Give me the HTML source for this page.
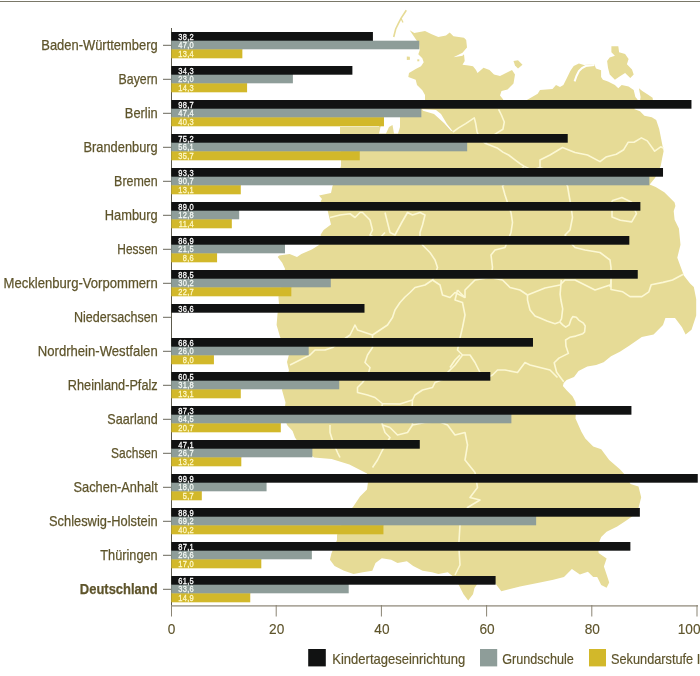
<!DOCTYPE html>
<html><head><meta charset="utf-8"><style>
html,body{margin:0;padding:0;background:#fff;}
body{width:700px;height:676px;overflow:hidden;}
svg{display:block;font-family:"Liberation Sans",sans-serif;}
</style></head><body>
<svg width="700" height="676" viewBox="0 0 700 676">
<rect x="0" y="0" width="700" height="676" fill="#ffffff"/>
<rect x="0" y="1" width="700" height="1" fill="#7a7868"/>
<path d="M409.7,30.3 L414.3,33 L421,31.7 L425,31 L431.7,34.3 L438.3,37 L446,35.5 L449.7,32.5 L453.5,36.2 L464,37.7 L466.2,40 L467,47.5 L462.5,52.7 L453.5,57.2 L462.5,55.7 L464,54.2 L464.7,61 L462.5,64.7 L468.5,65.5 L473,66.2 L476,70 L477.5,73 L483.5,67.7 L489.5,70 L494,74.5 L500,76 L506,73 L512,70 L515,74.5 L513.5,83.5 L507.5,89.5 L501.5,91 L500,95.5 L503,99.2 L505,104 L520,104 L537.7,93.7 L540,90 L552.5,89 L556,85 L560,87 L563.4,84.9 L566.9,78 L570.3,71.1 L573.7,66 L578.9,63.4 L584,65.1 L594.3,64.3 L596,68.6 L601.1,70.3 L601.1,77.1 L602.9,79.7 L608,81.4 L614.9,84.9 L618.3,88.3 L621.7,84.9 L628.6,86.6 L633.7,90 L635.4,96.9 L637.1,99 L640,104 L634,109 L640,111.3 L644.4,115.7 L651.8,117.2 L656.2,120.1 L659.2,129 L660.7,136.4 L662.1,143.8 L663.6,151.2 L662.1,158.6 L660.7,166 L655,178 L649.7,184.6 L655.7,187.1 L664.3,192.3 L668.6,196.6 L674.6,202.6 L675.4,206 L673.7,211.1 L674.6,219.7 L678.9,228.4 L680.5,244.7 L677.3,257.7 L682.1,270.7 L683.8,275.6 L690.3,283.8 L693.8,287.1 L696.2,298.9 L696.2,315.5 L691.5,329.7 L685.6,334.4 L682,327.3 L675,317.9 L665.4,317.9 L663,325 L653.6,334.4 L641.8,337 L628.8,345.9 L619.9,351.8 L611,356.3 L603.6,362.2 L596.2,365.1 L587.3,366.6 L578.5,371.1 L574,377 L566.6,380 L563.7,382.9 L562.9,385.9 L566.6,390.3 L572.5,396.2 L575.5,402.1 L576,410 L575.5,418.4 L581.4,431.7 L585.3,438.6 L593.2,446.6 L601.2,449.3 L609.2,460 L619.9,469.3 L626,476 L630.5,484 L638.5,486.6 L641.2,497.2 L638.5,507.9 L633.2,515.8 L625.2,521.2 L617.2,526.5 L606.6,531.8 L601.2,537.1 L598,545 L598.6,553.1 L606.6,558.4 L603.9,566.4 L606.6,574.4 L609.2,582.4 L606.6,587.7 L601.2,585 L597.2,577.1 L593.2,577.1 L587.9,571.8 L579.9,574.4 L571.9,569.1 L564,577.1 L553.3,579.7 L540,582.4 L520,586.5 L501.3,591.2 L495,583 L478,583 L474.5,588 L473,594.3 L468.2,600.6 L463.5,594.3 L458.8,585 L455,578 L447.8,572.3 L438.4,573.9 L432,572.3 L422.6,570.8 L413.2,566 L406.9,561.3 L397.5,562.9 L391.2,559.7 L381.8,558.2 L375.5,562.9 L372.3,570.8 L362.9,572.3 L353.5,573.9 L344,570.8 L334.6,566 L329.9,559.7 L331.4,553.5 L337,540 L337,535 L342.5,522.5 L350,510 L353,507 L360,496.5 L367,489.5 L368,482 L367,473.5 L349.4,464.6 L331.6,459 L314,457.5 L300,445 L295,437.5 L292.6,431 L287,425 L284,415 L285.5,402.5 L282,390 L284,382 L289,370.5 L287,362 L289,354.5 L284,345 L280,336.8 L276.6,325 L277.5,314 L279,304 L278.4,297 L282,285 L285,268.8 L282.2,262.8 L277.75,257 L279.2,255.4 L289.6,254 L297,257 L301.4,254 L311.8,249.5 L319,245 L321,238 L320.6,234.7 L323.6,230 L331,224.4 L329.5,218.5 L328,212 L326,205 L320.6,201.5 L322,199 L319,195.5 L331,193 L332.5,186 L338,175 L341,166 L341,160 L341,145 L340,134 L340,127 L379,127 L381,120 L400,117 L410,112 L425,100 L425,95 L422.3,90.3 L417,85 L415.7,79.7 L408.3,77 L409,73 L415.7,69 L421,66.3 L423.7,62.3 L422.3,58.3 L418.3,54.3 L419.7,50.3 L419,44Z" fill="#e6db96"/>
<path d="M513.5,61 L518,60.2 L522.5,64.7 L518,68.5 L515,65.5Z" fill="#e6db96"/>
<path d="M611.4,46.3 L618.3,46.3 L619.1,52.3 L625.1,54 L628.6,59.1 L626.9,64.3 L632,69.4 L633.7,74.6 L630.3,78 L625.1,72.9 L620,76.3 L614.9,79.7 L609.7,74.6 L608,67.7 L607.1,60.9 L609.7,57.4 L614.9,55.7 L611.4,52.3Z" fill="#e6db96"/>
<path d="M638.9,88.3 L642.3,90.9 L647.4,94.3 L652.6,97.7 L653,101 L640,101 L640.6,96.9Z" fill="#e6db96"/>
<path d="M406.8,56.5 L409.8,56.8 L410,59.8 L406.8,60Z" fill="#e6db96"/>
<path d="M417.3,59.3 L419.3,59.3 L419.3,61.3 L417.3,61.3Z" fill="#e6db96"/>
<polyline points="406.3,10.3 403.7,14.3 401,18.3 398.3,23.7 395.7,29 393.7,37" fill="none" stroke="#e6db96" stroke-width="1.6"/><polyline points="401,18.3 403,22.5" fill="none" stroke="#e6db96" stroke-width="1.3"/>
<path d="M422,109.3 L436,110 L441,114 L447,124 L453,131.4 L451,130.7 L444,123 L434,114 L423,110.7Z" fill="#ffffff"/>
<path d="M383,117 L400,117 L400,127 L398,133.5 L394,133.5 L392.5,125 L389,127 L386,133.5 L379,133.5 L381,125Z" fill="#ffffff"/>
<polyline points="574.6,81.4 576.5,76 578.9,71.1 582,68 585.7,66 594.3,65.1" fill="none" stroke="#ffffff" stroke-width="2"/>
<polyline points="452.9,132 458.6,127.9 465.7,123.6 474.3,117.9 475.7,123.6 477.1,132 480,139 485.7,143.6 497.1,147.9 502.9,152.1 508.6,155 514.3,159.3 520,163.6 524.3,166.4" fill="none" stroke="#fcf8d4" stroke-width="1.6" stroke-linejoin="round"/>
<polyline points="498.6,109.3 501.4,115 504.3,122 502.9,129.3 497.1,132.9 488,139 485.7,143.6" fill="none" stroke="#fcf8d4" stroke-width="1.6" stroke-linejoin="round"/>
<polyline points="524.3,166.4 532,170 540,167.5 540,160 550,155 562.5,147.5 575,152.5 587.5,155 600,161.6 605.9,157.1 616.3,154.2 623.7,149.7 628.1,142.3 634,142.3 641.4,137.9 647.3,140.9 654.7,151.2 660.7,146.8 663.6,148.3" fill="none" stroke="#fcf8d4" stroke-width="1.6" stroke-linejoin="round"/>
<polyline points="524.3,166.4 512,177 502.5,186 505,195 508,204 511,212.5 512.5,222.5 511,232.5 508,240 505,247.5 495,250 491,255 492.5,267.5 491,277 490,277.5" fill="none" stroke="#fcf8d4" stroke-width="1.6" stroke-linejoin="round"/>
<polyline points="540,167.5 560,175 567.5,186 569,195 571,206 572.5,217.5 570,230 565,235 570,242 575,247.5 585,250 600,252.5 610,260 611,267.5 611,280 610.5,287" fill="none" stroke="#fcf8d4" stroke-width="1.6" stroke-linejoin="round"/>
<polyline points="432.5,280 440,285 442.5,295 450,297.5 455,292.5 465,297.5 465,290 475,280 490,277.5 502.5,280 510,287.5 520,290 527.5,295" fill="none" stroke="#fcf8d4" stroke-width="1.6" stroke-linejoin="round"/>
<polyline points="527.5,295 545,288 560,285 565,280 575,280 585,285 595,290 610,285 610.5,287" fill="none" stroke="#fcf8d4" stroke-width="1.6" stroke-linejoin="round"/>
<polyline points="612,200.7 621.9,197.5 631.7,202.3 636.5,213.7 631.7,221.9 620.3,220.3 612,217 612,200.7" fill="none" stroke="#fcf8d4" stroke-width="1.6" stroke-linejoin="round"/>
<polyline points="611,280 611,289.5 622.8,291.8 630,296.6 641.8,296.6 648.9,291.8 651.2,284.7 663,282.4 672.5,280 683.8,274" fill="none" stroke="#fcf8d4" stroke-width="1.6" stroke-linejoin="round"/>
<polyline points="527.5,295 527.5,300 530,310 535,316 540,317.9 547,321 555,323.7 559.7,321.9" fill="none" stroke="#fcf8d4" stroke-width="1.6" stroke-linejoin="round"/>
<polyline points="561.3,280 560.1,294.2 560.9,300 562.7,308.9 561.5,318.9 559.7,321.9" fill="none" stroke="#fcf8d4" stroke-width="1.6" stroke-linejoin="round"/>
<polyline points="559.7,321.9 562.7,324.9 565.7,327.2 569.2,324.9 571,319.5 572.8,316.6 576.3,317.2 578.7,320.1 583.4,323.1 585.2,326 584.6,332 582.8,333.7 575.7,336.1 569.8,337.3 565.6,340 566,346.3 568.4,353.4 558.9,358.1 554.2,362.8 556.6,372.3 563.7,381.8" fill="none" stroke="#fcf8d4" stroke-width="1.6" stroke-linejoin="round"/>
<polyline points="462.5,355 470,355 475,362.5 480,372.5 487.5,377.5 492.5,375 497.5,370 505,370 517.5,372.5 525,362.5 530,365 540,367.5 550,370 557.5,377.5" fill="none" stroke="#fcf8d4" stroke-width="1.6" stroke-linejoin="round"/>
<polyline points="465,297.5 457.5,290" fill="none" stroke="#fcf8d4" stroke-width="1.6" stroke-linejoin="round"/>
<polyline points="457.5,290 455,300 462.5,302.5 465,315 462.5,327.5 460,338 457.5,350 462.5,355 455,365 447.5,372.5 447.5,377.5 435,382.5 432.5,387.5 422.5,390 415,395 412.5,400 412,410 412.5,425" fill="none" stroke="#fcf8d4" stroke-width="1.6" stroke-linejoin="round"/>
<polyline points="450,367.5 455,360 460,355" fill="none" stroke="#fcf8d4" stroke-width="1.6" stroke-linejoin="round"/>
<polyline points="390,427.5 397.5,435 407.5,432.5 412.5,425 425,422.5 440,422 447.5,425 455,435 465,432.5 467.5,445 465,460 475,472.5 477.5,487.5 470,497.5 480,500 467.5,507.5 460,525 458.75,545 460,565 455,575" fill="none" stroke="#fcf8d4" stroke-width="1.6" stroke-linejoin="round"/>
<polyline points="330,217.5 340,215 350,213.75 355,217.5 360,212.5 362.5,212.5 370,220 372.5,230 370,235 378,240 385,232.5" fill="none" stroke="#fcf8d4" stroke-width="1.6" stroke-linejoin="round"/>
<polyline points="385,212.5 387.5,222.5 390,232.5 395,235 402,222 407.5,212.5 412.5,215 420,212.5 425,215 422.5,225 420,232.5 420,240 422.5,245 430,252.5 435,260 437.5,267.5 435,275 432.5,280 425,285 415,287.5 410,292.5 405,297 400,302.5 395,310 392.5,317.5 387.5,325 380,330 372.5,335 365,332.5 357.5,330 355,325 350,335 340,342 332.5,347.5 325,350 315,350 310,355 300,360 290,365" fill="none" stroke="#fcf8d4" stroke-width="1.6" stroke-linejoin="round"/>
<polyline points="372.5,335 372.5,347.5 367.5,355 365,362.5 370,367.5 368,375 362.5,382.5 357.5,387.5 357.5,392.5 367.5,395 375,397.5 382.5,403.75 380,415 382.5,425 385,432.5 390,437.5 386,444 382.5,450 377.5,460 372.5,467.5" fill="none" stroke="#fcf8d4" stroke-width="1.6" stroke-linejoin="round"/>
<polyline points="382.5,425 390,427.5" fill="none" stroke="#fcf8d4" stroke-width="1.6" stroke-linejoin="round"/>
<polyline points="412.5,400 400,404 382.5,403.75" fill="none" stroke="#fcf8d4" stroke-width="1.6" stroke-linejoin="round"/>
<polyline points="330,425 330,432.5 333,442 337.5,452.5 340,457.5" fill="none" stroke="#fcf8d4" stroke-width="1.6" stroke-linejoin="round"/>
<rect x="171" y="28" width="1" height="588" fill="#5c5a4c"/>
<rect x="171.3" y="49.3" width="71.05" height="9.0" fill="#d2b82a"/>
<rect x="171.3" y="48.6" width="71.05" height="1" fill="#d2b82a"/>
<rect x="171.3" y="40.7" width="247.95" height="8.6" fill="#8e9d99"/>
<rect x="171.3" y="40.0" width="201.62" height="1" fill="#8e9d99"/>
<rect x="171.3" y="32" width="201.62" height="8.7" fill="#111212"/>
<rect x="171.3" y="83.3" width="75.79" height="9.0" fill="#d2b82a"/>
<rect x="171.3" y="82.6" width="75.79" height="1" fill="#d2b82a"/>
<rect x="171.3" y="74.7" width="121.59" height="8.6" fill="#8e9d99"/>
<rect x="171.3" y="74.0" width="121.59" height="1" fill="#8e9d99"/>
<rect x="171.3" y="66" width="181.09" height="8.7" fill="#111212"/>
<rect x="171.3" y="117.3" width="212.68" height="9.0" fill="#d2b82a"/>
<rect x="171.3" y="116.6" width="212.68" height="1" fill="#d2b82a"/>
<rect x="171.3" y="108.7" width="250.06" height="8.6" fill="#8e9d99"/>
<rect x="171.3" y="108.0" width="250.06" height="1" fill="#8e9d99"/>
<rect x="171.3" y="100" width="520.16" height="8.7" fill="#111212"/>
<rect x="171.3" y="151.3" width="188.46" height="9.0" fill="#d2b82a"/>
<rect x="171.3" y="150.6" width="188.46" height="1" fill="#d2b82a"/>
<rect x="171.3" y="142.7" width="295.87" height="8.6" fill="#8e9d99"/>
<rect x="171.3" y="142.0" width="295.87" height="1" fill="#8e9d99"/>
<rect x="171.3" y="134" width="396.43" height="8.7" fill="#111212"/>
<rect x="171.3" y="185.3" width="69.47" height="9.0" fill="#d2b82a"/>
<rect x="171.3" y="184.6" width="69.47" height="1" fill="#d2b82a"/>
<rect x="171.3" y="176.7" width="478.04" height="8.6" fill="#8e9d99"/>
<rect x="171.3" y="176.0" width="478.04" height="1" fill="#8e9d99"/>
<rect x="171.3" y="168" width="491.72" height="8.7" fill="#111212"/>
<rect x="171.3" y="219.3" width="60.52" height="9.0" fill="#d2b82a"/>
<rect x="171.3" y="218.6" width="60.52" height="1" fill="#d2b82a"/>
<rect x="171.3" y="210.7" width="67.89" height="8.6" fill="#8e9d99"/>
<rect x="171.3" y="210.0" width="67.89" height="1" fill="#8e9d99"/>
<rect x="171.3" y="202" width="469.08" height="8.7" fill="#111212"/>
<rect x="171.3" y="253.3" width="45.78" height="9.0" fill="#d2b82a"/>
<rect x="171.3" y="252.6" width="45.78" height="1" fill="#d2b82a"/>
<rect x="171.3" y="244.7" width="113.70" height="8.6" fill="#8e9d99"/>
<rect x="171.3" y="244.0" width="113.70" height="1" fill="#8e9d99"/>
<rect x="171.3" y="236" width="458.03" height="8.7" fill="#111212"/>
<rect x="171.3" y="287.3" width="120.02" height="9.0" fill="#d2b82a"/>
<rect x="171.3" y="286.6" width="120.02" height="1" fill="#d2b82a"/>
<rect x="171.3" y="278.7" width="159.50" height="8.6" fill="#8e9d99"/>
<rect x="171.3" y="278.0" width="159.50" height="1" fill="#8e9d99"/>
<rect x="171.3" y="270" width="466.45" height="8.7" fill="#111212"/>
<rect x="171.3" y="304" width="193.20" height="8.7" fill="#111212"/>
<rect x="171.3" y="355.3" width="42.62" height="9.0" fill="#d2b82a"/>
<rect x="171.3" y="354.6" width="42.62" height="1" fill="#d2b82a"/>
<rect x="171.3" y="346.7" width="137.39" height="8.6" fill="#8e9d99"/>
<rect x="171.3" y="346.0" width="137.39" height="1" fill="#8e9d99"/>
<rect x="171.3" y="338" width="361.68" height="8.7" fill="#111212"/>
<rect x="171.3" y="389.3" width="69.47" height="9.0" fill="#d2b82a"/>
<rect x="171.3" y="388.6" width="69.47" height="1" fill="#d2b82a"/>
<rect x="171.3" y="380.7" width="167.93" height="8.6" fill="#8e9d99"/>
<rect x="171.3" y="380.0" width="167.93" height="1" fill="#8e9d99"/>
<rect x="171.3" y="372" width="319.03" height="8.7" fill="#111212"/>
<rect x="171.3" y="423.3" width="109.49" height="9.0" fill="#d2b82a"/>
<rect x="171.3" y="422.6" width="109.49" height="1" fill="#d2b82a"/>
<rect x="171.3" y="414.7" width="340.09" height="8.6" fill="#8e9d99"/>
<rect x="171.3" y="414.0" width="340.09" height="1" fill="#8e9d99"/>
<rect x="171.3" y="406" width="460.13" height="8.7" fill="#111212"/>
<rect x="171.3" y="457.3" width="70.00" height="9.0" fill="#d2b82a"/>
<rect x="171.3" y="456.6" width="70.00" height="1" fill="#d2b82a"/>
<rect x="171.3" y="448.7" width="141.08" height="8.6" fill="#8e9d99"/>
<rect x="171.3" y="448.0" width="141.08" height="1" fill="#8e9d99"/>
<rect x="171.3" y="440" width="248.48" height="8.7" fill="#111212"/>
<rect x="171.3" y="491.3" width="30.51" height="9.0" fill="#d2b82a"/>
<rect x="171.3" y="490.6" width="30.51" height="1" fill="#d2b82a"/>
<rect x="171.3" y="482.7" width="95.27" height="8.6" fill="#8e9d99"/>
<rect x="171.3" y="482.0" width="95.27" height="1" fill="#8e9d99"/>
<rect x="171.3" y="474" width="526.47" height="8.7" fill="#111212"/>
<rect x="171.3" y="525.3" width="212.15" height="9.0" fill="#d2b82a"/>
<rect x="171.3" y="524.6" width="212.15" height="1" fill="#d2b82a"/>
<rect x="171.3" y="516.7" width="364.84" height="8.6" fill="#8e9d99"/>
<rect x="171.3" y="516.0" width="364.84" height="1" fill="#8e9d99"/>
<rect x="171.3" y="508" width="468.56" height="8.7" fill="#111212"/>
<rect x="171.3" y="559.3" width="90.00" height="9.0" fill="#d2b82a"/>
<rect x="171.3" y="558.6" width="90.00" height="1" fill="#d2b82a"/>
<rect x="171.3" y="550.7" width="140.55" height="8.6" fill="#8e9d99"/>
<rect x="171.3" y="550.0" width="140.55" height="1" fill="#8e9d99"/>
<rect x="171.3" y="542" width="459.08" height="8.7" fill="#111212"/>
<rect x="171.3" y="593.3" width="78.95" height="9.0" fill="#d2b82a"/>
<rect x="171.3" y="592.6" width="78.95" height="1" fill="#d2b82a"/>
<rect x="171.3" y="584.7" width="177.40" height="8.6" fill="#8e9d99"/>
<rect x="171.3" y="584.0" width="177.40" height="1" fill="#8e9d99"/>
<rect x="171.3" y="576" width="324.30" height="8.7" fill="#111212"/>
<rect x="171" y="605.3" width="527" height="1.2" fill="#8a8474"/>
<rect x="171" y="605" width="1" height="11.5" fill="#8a8474"/>
<rect x="275.7" y="605" width="1" height="11.5" fill="#8a8474"/>
<rect x="380.9" y="605" width="1" height="11.5" fill="#8a8474"/>
<rect x="486.09999999999997" y="605" width="1" height="11.5" fill="#8a8474"/>
<rect x="591.3" y="605" width="1" height="11.5" fill="#8a8474"/>
<rect x="696.5" y="605" width="1" height="11.5" fill="#8a8474"/>
<rect x="163" y="44.8" width="8" height="1" fill="#6a685c"/>
<rect x="163" y="78.8" width="8" height="1" fill="#6a685c"/>
<rect x="163" y="112.8" width="8" height="1" fill="#6a685c"/>
<rect x="163" y="146.8" width="8" height="1" fill="#6a685c"/>
<rect x="163" y="180.8" width="8" height="1" fill="#6a685c"/>
<rect x="163" y="214.8" width="8" height="1" fill="#6a685c"/>
<rect x="163" y="248.8" width="8" height="1" fill="#6a685c"/>
<rect x="163" y="282.8" width="8" height="1" fill="#6a685c"/>
<rect x="163" y="316.8" width="8" height="1" fill="#6a685c"/>
<rect x="163" y="350.8" width="8" height="1" fill="#6a685c"/>
<rect x="163" y="384.8" width="8" height="1" fill="#6a685c"/>
<rect x="163" y="418.8" width="8" height="1" fill="#6a685c"/>
<rect x="163" y="452.8" width="8" height="1" fill="#6a685c"/>
<rect x="163" y="486.8" width="8" height="1" fill="#6a685c"/>
<rect x="163" y="520.8" width="8" height="1" fill="#6a685c"/>
<rect x="163" y="554.8" width="8" height="1" fill="#6a685c"/>
<rect x="163" y="588.8" width="8" height="1" fill="#6a685c"/>
<rect x="308.2" y="649" width="17.6" height="17.4" fill="#111212"/>
<rect x="480" y="649" width="17.2" height="17.4" fill="#8e9d99"/>
<rect x="589" y="649" width="17" height="17.4" fill="#d2b82a"/>
<g style="will-change:transform">
<text x="157.7" y="49.6" text-anchor="end" textLength="116.4" lengthAdjust="spacingAndGlyphs" font-size="14.8" font-weight="normal" fill="#5e542b" stroke="#5e542b" stroke-width="0.25">Baden-Württemberg</text>
<text x="0" y="39.6" text-anchor="end" font-size="9.9" letter-spacing="0.35" fill="#ffffff" stroke="#ffffff" stroke-width="0.3" transform="translate(194.0 0) scale(0.76 1)">38,2</text>
<text x="0" y="48.2" text-anchor="end" font-size="9.9" letter-spacing="0.35" fill="#f4f8f4" stroke="#f4f8f4" stroke-width="0.3" transform="translate(194.0 0) scale(0.76 1)">47,0</text>
<text x="0" y="56.9" text-anchor="end" font-size="9.9" letter-spacing="0.35" fill="#fff8c8" stroke="#fff8c8" stroke-width="0.3" transform="translate(194.0 0) scale(0.76 1)">13,4</text>
<text x="157.7" y="83.6" text-anchor="end" textLength="39.1" lengthAdjust="spacingAndGlyphs" font-size="14.8" font-weight="normal" fill="#5e542b" stroke="#5e542b" stroke-width="0.25">Bayern</text>
<text x="0" y="73.6" text-anchor="end" font-size="9.9" letter-spacing="0.35" fill="#ffffff" stroke="#ffffff" stroke-width="0.3" transform="translate(194.0 0) scale(0.76 1)">34,3</text>
<text x="0" y="82.2" text-anchor="end" font-size="9.9" letter-spacing="0.35" fill="#f4f8f4" stroke="#f4f8f4" stroke-width="0.3" transform="translate(194.0 0) scale(0.76 1)">23,0</text>
<text x="0" y="90.9" text-anchor="end" font-size="9.9" letter-spacing="0.35" fill="#fff8c8" stroke="#fff8c8" stroke-width="0.3" transform="translate(194.0 0) scale(0.76 1)">14,3</text>
<text x="157.7" y="117.6" text-anchor="end" textLength="32.9" lengthAdjust="spacingAndGlyphs" font-size="14.8" font-weight="normal" fill="#5e542b" stroke="#5e542b" stroke-width="0.25">Berlin</text>
<text x="0" y="107.6" text-anchor="end" font-size="9.9" letter-spacing="0.35" fill="#ffffff" stroke="#ffffff" stroke-width="0.3" transform="translate(194.0 0) scale(0.76 1)">98,7</text>
<text x="0" y="116.2" text-anchor="end" font-size="9.9" letter-spacing="0.35" fill="#f4f8f4" stroke="#f4f8f4" stroke-width="0.3" transform="translate(194.0 0) scale(0.76 1)">47,4</text>
<text x="0" y="124.9" text-anchor="end" font-size="9.9" letter-spacing="0.35" fill="#fff8c8" stroke="#fff8c8" stroke-width="0.3" transform="translate(194.0 0) scale(0.76 1)">40,3</text>
<text x="157.7" y="151.6" text-anchor="end" textLength="74.2" lengthAdjust="spacingAndGlyphs" font-size="14.8" font-weight="normal" fill="#5e542b" stroke="#5e542b" stroke-width="0.25">Brandenburg</text>
<text x="0" y="141.6" text-anchor="end" font-size="9.9" letter-spacing="0.35" fill="#ffffff" stroke="#ffffff" stroke-width="0.3" transform="translate(194.0 0) scale(0.76 1)">75,2</text>
<text x="0" y="150.2" text-anchor="end" font-size="9.9" letter-spacing="0.35" fill="#f4f8f4" stroke="#f4f8f4" stroke-width="0.3" transform="translate(194.0 0) scale(0.76 1)">56,1</text>
<text x="0" y="158.9" text-anchor="end" font-size="9.9" letter-spacing="0.35" fill="#fff8c8" stroke="#fff8c8" stroke-width="0.3" transform="translate(194.0 0) scale(0.76 1)">35,7</text>
<text x="157.7" y="185.6" text-anchor="end" textLength="43.6" lengthAdjust="spacingAndGlyphs" font-size="14.8" font-weight="normal" fill="#5e542b" stroke="#5e542b" stroke-width="0.25">Bremen</text>
<text x="0" y="175.6" text-anchor="end" font-size="9.9" letter-spacing="0.35" fill="#ffffff" stroke="#ffffff" stroke-width="0.3" transform="translate(194.0 0) scale(0.76 1)">93,3</text>
<text x="0" y="184.2" text-anchor="end" font-size="9.9" letter-spacing="0.35" fill="#f4f8f4" stroke="#f4f8f4" stroke-width="0.3" transform="translate(194.0 0) scale(0.76 1)">90,7</text>
<text x="0" y="192.9" text-anchor="end" font-size="9.9" letter-spacing="0.35" fill="#fff8c8" stroke="#fff8c8" stroke-width="0.3" transform="translate(194.0 0) scale(0.76 1)">13,1</text>
<text x="157.7" y="219.6" text-anchor="end" textLength="52.9" lengthAdjust="spacingAndGlyphs" font-size="14.8" font-weight="normal" fill="#5e542b" stroke="#5e542b" stroke-width="0.25">Hamburg</text>
<text x="0" y="209.6" text-anchor="end" font-size="9.9" letter-spacing="0.35" fill="#ffffff" stroke="#ffffff" stroke-width="0.3" transform="translate(194.0 0) scale(0.76 1)">89,0</text>
<text x="0" y="218.2" text-anchor="end" font-size="9.9" letter-spacing="0.35" fill="#f4f8f4" stroke="#f4f8f4" stroke-width="0.3" transform="translate(194.0 0) scale(0.76 1)">12,8</text>
<text x="0" y="226.9" text-anchor="end" font-size="9.9" letter-spacing="0.35" fill="#fff8c8" stroke="#fff8c8" stroke-width="0.3" transform="translate(194.0 0) scale(0.76 1)">11,4</text>
<text x="157.7" y="253.6" text-anchor="end" textLength="40.4" lengthAdjust="spacingAndGlyphs" font-size="14.8" font-weight="normal" fill="#5e542b" stroke="#5e542b" stroke-width="0.25">Hessen</text>
<text x="0" y="243.6" text-anchor="end" font-size="9.9" letter-spacing="0.35" fill="#ffffff" stroke="#ffffff" stroke-width="0.3" transform="translate(194.0 0) scale(0.76 1)">86,9</text>
<text x="0" y="252.2" text-anchor="end" font-size="9.9" letter-spacing="0.35" fill="#f4f8f4" stroke="#f4f8f4" stroke-width="0.3" transform="translate(194.0 0) scale(0.76 1)">21,5</text>
<text x="0" y="260.9" text-anchor="end" font-size="9.9" letter-spacing="0.35" fill="#fff8c8" stroke="#fff8c8" stroke-width="0.3" transform="translate(194.0 0) scale(0.76 1)">8,6</text>
<text x="157.7" y="287.6" text-anchor="end" textLength="154.2" lengthAdjust="spacingAndGlyphs" font-size="14.8" font-weight="normal" fill="#5e542b" stroke="#5e542b" stroke-width="0.25">Mecklenburg-Vorpommern</text>
<text x="0" y="277.6" text-anchor="end" font-size="9.9" letter-spacing="0.35" fill="#ffffff" stroke="#ffffff" stroke-width="0.3" transform="translate(194.0 0) scale(0.76 1)">88,5</text>
<text x="0" y="286.2" text-anchor="end" font-size="9.9" letter-spacing="0.35" fill="#f4f8f4" stroke="#f4f8f4" stroke-width="0.3" transform="translate(194.0 0) scale(0.76 1)">30,2</text>
<text x="0" y="294.9" text-anchor="end" font-size="9.9" letter-spacing="0.35" fill="#fff8c8" stroke="#fff8c8" stroke-width="0.3" transform="translate(194.0 0) scale(0.76 1)">22,7</text>
<text x="157.7" y="321.6" text-anchor="end" textLength="83.7" lengthAdjust="spacingAndGlyphs" font-size="14.8" font-weight="normal" fill="#5e542b" stroke="#5e542b" stroke-width="0.25">Niedersachsen</text>
<text x="0" y="311.6" text-anchor="end" font-size="9.9" letter-spacing="0.35" fill="#ffffff" stroke="#ffffff" stroke-width="0.3" transform="translate(194.0 0) scale(0.76 1)">36,6</text>
<text x="157.7" y="355.6" text-anchor="end" textLength="119.9" lengthAdjust="spacingAndGlyphs" font-size="14.8" font-weight="normal" fill="#5e542b" stroke="#5e542b" stroke-width="0.25">Nordrhein-Westfalen</text>
<text x="0" y="345.6" text-anchor="end" font-size="9.9" letter-spacing="0.35" fill="#ffffff" stroke="#ffffff" stroke-width="0.3" transform="translate(194.0 0) scale(0.76 1)">68,6</text>
<text x="0" y="354.2" text-anchor="end" font-size="9.9" letter-spacing="0.35" fill="#f4f8f4" stroke="#f4f8f4" stroke-width="0.3" transform="translate(194.0 0) scale(0.76 1)">26,0</text>
<text x="0" y="362.9" text-anchor="end" font-size="9.9" letter-spacing="0.35" fill="#fff8c8" stroke="#fff8c8" stroke-width="0.3" transform="translate(194.0 0) scale(0.76 1)">8,0</text>
<text x="157.7" y="389.6" text-anchor="end" textLength="89.9" lengthAdjust="spacingAndGlyphs" font-size="14.8" font-weight="normal" fill="#5e542b" stroke="#5e542b" stroke-width="0.25">Rheinland-Pfalz</text>
<text x="0" y="379.6" text-anchor="end" font-size="9.9" letter-spacing="0.35" fill="#ffffff" stroke="#ffffff" stroke-width="0.3" transform="translate(194.0 0) scale(0.76 1)">60,5</text>
<text x="0" y="388.2" text-anchor="end" font-size="9.9" letter-spacing="0.35" fill="#f4f8f4" stroke="#f4f8f4" stroke-width="0.3" transform="translate(194.0 0) scale(0.76 1)">31,8</text>
<text x="0" y="396.9" text-anchor="end" font-size="9.9" letter-spacing="0.35" fill="#fff8c8" stroke="#fff8c8" stroke-width="0.3" transform="translate(194.0 0) scale(0.76 1)">13,1</text>
<text x="157.7" y="423.6" text-anchor="end" textLength="50.4" lengthAdjust="spacingAndGlyphs" font-size="14.8" font-weight="normal" fill="#5e542b" stroke="#5e542b" stroke-width="0.25">Saarland</text>
<text x="0" y="413.6" text-anchor="end" font-size="9.9" letter-spacing="0.35" fill="#ffffff" stroke="#ffffff" stroke-width="0.3" transform="translate(194.0 0) scale(0.76 1)">87,3</text>
<text x="0" y="422.2" text-anchor="end" font-size="9.9" letter-spacing="0.35" fill="#f4f8f4" stroke="#f4f8f4" stroke-width="0.3" transform="translate(194.0 0) scale(0.76 1)">64,5</text>
<text x="0" y="430.9" text-anchor="end" font-size="9.9" letter-spacing="0.35" fill="#fff8c8" stroke="#fff8c8" stroke-width="0.3" transform="translate(194.0 0) scale(0.76 1)">20,7</text>
<text x="157.7" y="457.6" text-anchor="end" textLength="46.6" lengthAdjust="spacingAndGlyphs" font-size="14.8" font-weight="normal" fill="#5e542b" stroke="#5e542b" stroke-width="0.25">Sachsen</text>
<text x="0" y="447.6" text-anchor="end" font-size="9.9" letter-spacing="0.35" fill="#ffffff" stroke="#ffffff" stroke-width="0.3" transform="translate(194.0 0) scale(0.76 1)">47,1</text>
<text x="0" y="456.2" text-anchor="end" font-size="9.9" letter-spacing="0.35" fill="#f4f8f4" stroke="#f4f8f4" stroke-width="0.3" transform="translate(194.0 0) scale(0.76 1)">26,7</text>
<text x="0" y="464.9" text-anchor="end" font-size="9.9" letter-spacing="0.35" fill="#fff8c8" stroke="#fff8c8" stroke-width="0.3" transform="translate(194.0 0) scale(0.76 1)">13,2</text>
<text x="157.7" y="491.6" text-anchor="end" textLength="84.2" lengthAdjust="spacingAndGlyphs" font-size="14.8" font-weight="normal" fill="#5e542b" stroke="#5e542b" stroke-width="0.25">Sachen-Anhalt</text>
<text x="0" y="481.6" text-anchor="end" font-size="9.9" letter-spacing="0.35" fill="#ffffff" stroke="#ffffff" stroke-width="0.3" transform="translate(194.0 0) scale(0.76 1)">99,9</text>
<text x="0" y="490.2" text-anchor="end" font-size="9.9" letter-spacing="0.35" fill="#f4f8f4" stroke="#f4f8f4" stroke-width="0.3" transform="translate(194.0 0) scale(0.76 1)">18,0</text>
<text x="0" y="498.9" text-anchor="end" font-size="9.9" letter-spacing="0.35" fill="#fff8c8" stroke="#fff8c8" stroke-width="0.3" transform="translate(194.0 0) scale(0.76 1)">5,7</text>
<text x="157.7" y="525.6" text-anchor="end" textLength="108.7" lengthAdjust="spacingAndGlyphs" font-size="14.8" font-weight="normal" fill="#5e542b" stroke="#5e542b" stroke-width="0.25">Schleswig-Holstein</text>
<text x="0" y="515.6" text-anchor="end" font-size="9.9" letter-spacing="0.35" fill="#ffffff" stroke="#ffffff" stroke-width="0.3" transform="translate(194.0 0) scale(0.76 1)">88,9</text>
<text x="0" y="524.2" text-anchor="end" font-size="9.9" letter-spacing="0.35" fill="#f4f8f4" stroke="#f4f8f4" stroke-width="0.3" transform="translate(194.0 0) scale(0.76 1)">69,2</text>
<text x="0" y="532.9" text-anchor="end" font-size="9.9" letter-spacing="0.35" fill="#fff8c8" stroke="#fff8c8" stroke-width="0.3" transform="translate(194.0 0) scale(0.76 1)">40,2</text>
<text x="157.7" y="559.6" text-anchor="end" textLength="57.4" lengthAdjust="spacingAndGlyphs" font-size="14.8" font-weight="normal" fill="#5e542b" stroke="#5e542b" stroke-width="0.25">Thüringen</text>
<text x="0" y="549.6" text-anchor="end" font-size="9.9" letter-spacing="0.35" fill="#ffffff" stroke="#ffffff" stroke-width="0.3" transform="translate(194.0 0) scale(0.76 1)">87,1</text>
<text x="0" y="558.2" text-anchor="end" font-size="9.9" letter-spacing="0.35" fill="#f4f8f4" stroke="#f4f8f4" stroke-width="0.3" transform="translate(194.0 0) scale(0.76 1)">26,6</text>
<text x="0" y="566.9" text-anchor="end" font-size="9.9" letter-spacing="0.35" fill="#fff8c8" stroke="#fff8c8" stroke-width="0.3" transform="translate(194.0 0) scale(0.76 1)">17,0</text>
<text x="157.7" y="593.6" text-anchor="end" textLength="77.9" lengthAdjust="spacingAndGlyphs" font-size="14.8" font-weight="bold" fill="#5e542b" stroke="#5e542b" stroke-width="0.25">Deutschland</text>
<text x="0" y="583.6" text-anchor="end" font-size="9.9" letter-spacing="0.35" fill="#ffffff" stroke="#ffffff" stroke-width="0.3" transform="translate(194.0 0) scale(0.76 1)">61,5</text>
<text x="0" y="592.2" text-anchor="end" font-size="9.9" letter-spacing="0.35" fill="#f4f8f4" stroke="#f4f8f4" stroke-width="0.3" transform="translate(194.0 0) scale(0.76 1)">33,6</text>
<text x="0" y="600.9" text-anchor="end" font-size="9.9" letter-spacing="0.35" fill="#fff8c8" stroke="#fff8c8" stroke-width="0.3" transform="translate(194.0 0) scale(0.76 1)">14,9</text>
<text x="171.5" y="633.9" text-anchor="middle" font-size="15.2" fill="#5e542b" stroke="#5e542b" stroke-width="0.15" transform="translate(171.5 0) scale(0.9 1) translate(-171.5 0)">0</text>
<text x="276.7" y="633.9" text-anchor="middle" font-size="15.2" fill="#5e542b" stroke="#5e542b" stroke-width="0.15" transform="translate(276.7 0) scale(0.9 1) translate(-276.7 0)">20</text>
<text x="381.9" y="633.9" text-anchor="middle" font-size="15.2" fill="#5e542b" stroke="#5e542b" stroke-width="0.15" transform="translate(381.9 0) scale(0.9 1) translate(-381.9 0)">40</text>
<text x="487.1" y="633.9" text-anchor="middle" font-size="15.2" fill="#5e542b" stroke="#5e542b" stroke-width="0.15" transform="translate(487.1 0) scale(0.9 1) translate(-487.1 0)">60</text>
<text x="592.3" y="633.9" text-anchor="middle" font-size="15.2" fill="#5e542b" stroke="#5e542b" stroke-width="0.15" transform="translate(592.3 0) scale(0.9 1) translate(-592.3 0)">80</text>
<text x="0" y="633.9" text-anchor="end" font-size="15.2" fill="#5e542b" stroke="#5e542b" stroke-width="0.15" transform="translate(700.5 0) scale(0.9 1)">100</text>
<text x="332.3" y="664" textLength="133" lengthAdjust="spacingAndGlyphs" font-size="15" fill="#5e542b" stroke="#5e542b" stroke-width="0.2">Kindertageseinrichtung</text>
<text x="502.2" y="664" textLength="71.6" lengthAdjust="spacingAndGlyphs" font-size="15" fill="#5e542b" stroke="#5e542b" stroke-width="0.2">Grundschule</text>
<text x="611" y="664" textLength="89.3" lengthAdjust="spacingAndGlyphs" font-size="15" fill="#5e542b" stroke="#5e542b" stroke-width="0.2">Sekundarstufe I</text>
</g>
</svg>
</body></html>
